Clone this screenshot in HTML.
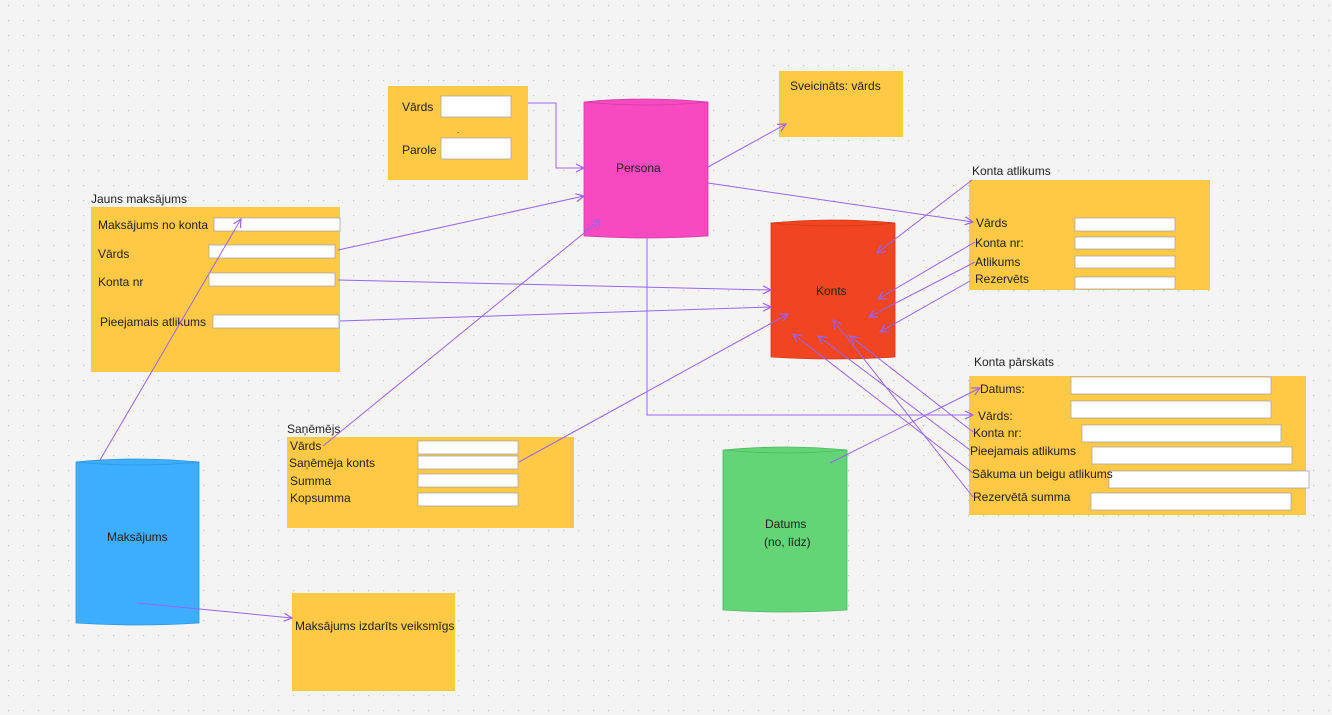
<!DOCTYPE html>
<html><head><meta charset="utf-8"><style>
body{margin:0;width:1332px;height:715px;overflow:hidden;background:#f4f4f4;font-family:"Liberation Sans",sans-serif;}
svg{position:absolute;left:0;top:0}
</style></head><body>
<svg width="1332" height="715" xmlns="http://www.w3.org/2000/svg" font-family="Liberation Sans, sans-serif" font-size="12" fill="#222">
<defs>
<pattern id="dots" width="15" height="15" patternUnits="userSpaceOnUse" x="8" y="5"><rect x="0" y="0" width="1.2" height="1.2" fill="#c4c4c4"/></pattern>
<marker id="a" markerWidth="10" markerHeight="10" refX="9" refY="5" orient="auto" markerUnits="userSpaceOnUse"><path d="M1,1 L9,5 L1,9" fill="none" stroke="#9b63f5" stroke-width="1.2"/></marker>
</defs>
<rect width="1332" height="715" fill="url(#dots)"/>

<!-- sticky boxes -->
<g fill="#fec944">
<rect x="388" y="86" width="140" height="94"/>
<rect x="779" y="71" width="124" height="66"/>
<rect x="91" y="207" width="249" height="165"/>
<rect x="969" y="180" width="241" height="110"/>
<rect x="969" y="376" width="337" height="139"/>
<rect x="287" y="437" width="287" height="91"/>
<rect x="292" y="593" width="163" height="98"/>
</g>

<!-- inputs -->
<g fill="#fff" stroke="#aaa" stroke-width="0.8">
<rect x="441" y="96" width="70" height="21"/>
<rect x="441" y="138" width="70" height="21"/>
<rect x="214" y="218" width="126" height="13"/>
<rect x="209" y="245" width="126" height="13"/>
<rect x="209" y="273" width="126" height="13"/>
<rect x="213" y="315" width="126" height="13"/>
<rect x="1075" y="218" width="100" height="13"/>
<rect x="1075" y="237" width="100" height="12"/>
<rect x="1075" y="256" width="100" height="12"/>
<rect x="1075" y="277" width="100" height="12"/>
<rect x="1071" y="377" width="200" height="17"/>
<rect x="1071" y="401" width="200" height="17"/>
<rect x="1082" y="425" width="199" height="17"/>
<rect x="1092" y="447" width="200" height="17"/>
<rect x="1109" y="471" width="200" height="17"/>
<rect x="1091" y="493" width="200" height="17"/>
<rect x="418" y="441" width="100" height="13"/>
<rect x="418" y="456" width="100" height="13"/>
<rect x="418" y="474" width="100" height="13"/>
<rect x="418" y="493" width="100" height="13"/>
</g>

<!-- cylinders -->
<g>
<path d="M584,102 Q646,96 708,102 V236 Q646,240 584,236 Z" fill="#f74ac0" stroke="#d838a6" stroke-width="0.8"/>
<path d="M584,102 Q646,108 708,102" fill="none" stroke="#d838a6" stroke-width="0.8"/>
<path d="M771,223 Q833,217 895,223 V357 Q833,361 771,357 Z" fill="#f04520" stroke="#d33a18" stroke-width="0.8"/>
<path d="M771,223 Q833,229 895,223" fill="none" stroke="#d33a18" stroke-width="0.8"/>
<path d="M723,450 Q785,444 847,450 V610 Q785,614 723,610 Z" fill="#63d577" stroke="#4cb85f" stroke-width="0.8"/>
<path d="M723,450 Q785,456 847,450" fill="none" stroke="#4cb85f" stroke-width="0.8"/>
<path d="M76,462 Q137,456 199,462 V623 Q137,627 76,623 Z" fill="#3caefc" stroke="#2c96e0" stroke-width="0.8"/>
<path d="M76,462 Q137,468 199,462" fill="none" stroke="#2c96e0" stroke-width="0.8"/>
</g>

<!-- texts -->
<text x="402" y="111">Vārds</text>
<text x="402" y="154">Parole</text>
<text x="457" y="133" font-size="8">.</text>
<text x="790" y="90">Sveicināts: vārds</text>
<text x="616" y="172">Persona</text>
<text x="816" y="295">Konts</text>
<text x="765" y="528">Datums</text>
<text x="764" y="546">(no, līdz)</text>
<text x="107" y="541">Maksājums</text>
<text x="91" y="203">Jauns maksājums</text>
<text x="98" y="229">Maksājums no konta</text>
<text x="98" y="258">Vārds</text>
<text x="98" y="286">Konta nr</text>
<text x="100" y="326">Pieejamais atlikums</text>
<text x="972" y="175">Konta atlikums</text>
<text x="976" y="227">Vārds</text>
<text x="975" y="247">Konta nr:</text>
<text x="975" y="266">Atlikums</text>
<text x="975" y="283">Rezervēts</text>
<text x="974" y="366">Konta pārskats</text>
<text x="980" y="393">Datums:</text>
<text x="978" y="420">Vārds:</text>
<text x="973" y="437">Konta nr:</text>
<text x="970" y="455">Pieejamais atlikums</text>
<text x="972" y="478">Sākuma un beigu atlikums</text>
<text x="973" y="501">Rezervētā summa</text>
<text x="287" y="433">Saņēmējs</text>
<text x="290" y="450">Vārds</text>
<text x="289" y="467">Saņēmēja konts</text>
<text x="290" y="485">Summa</text>
<text x="290" y="502">Kopsumma</text>
<text x="295" y="630">Maksājums izdarīts veiksmīgs</text>

<!-- connectors -->
<g stroke="#9b63f5" stroke-width="1" fill="none" marker-end="url(#a)">
<path d="M528,103 H556 V168 H584"/>
<path d="M708,167 L786,124"/>
<path d="M708,183 L973,222"/>
<path d="M647,237 V415 H973"/>
<path d="M338,250 L584,196"/>
<path d="M338,280 L771,290"/>
<path d="M340,321 L771,307"/>
<path d="M100,460 L241,219"/>
<path d="M323,446 L600,220"/>
<path d="M519,462 L788,314"/>
<path d="M972,180 L877,253"/>
<path d="M975,242 L878,299"/>
<path d="M975,262 L869,317"/>
<path d="M970,281 L880,332"/>
<path d="M137,603 L292,618"/>
<path d="M830,463 L980,388"/>
<path d="M973,432 L850,336"/>
<path d="M970,450 L818,336"/>
<path d="M973,473 L793,334"/>
<path d="M973,497 L833,320"/>
</g>
</svg>
</body></html>
